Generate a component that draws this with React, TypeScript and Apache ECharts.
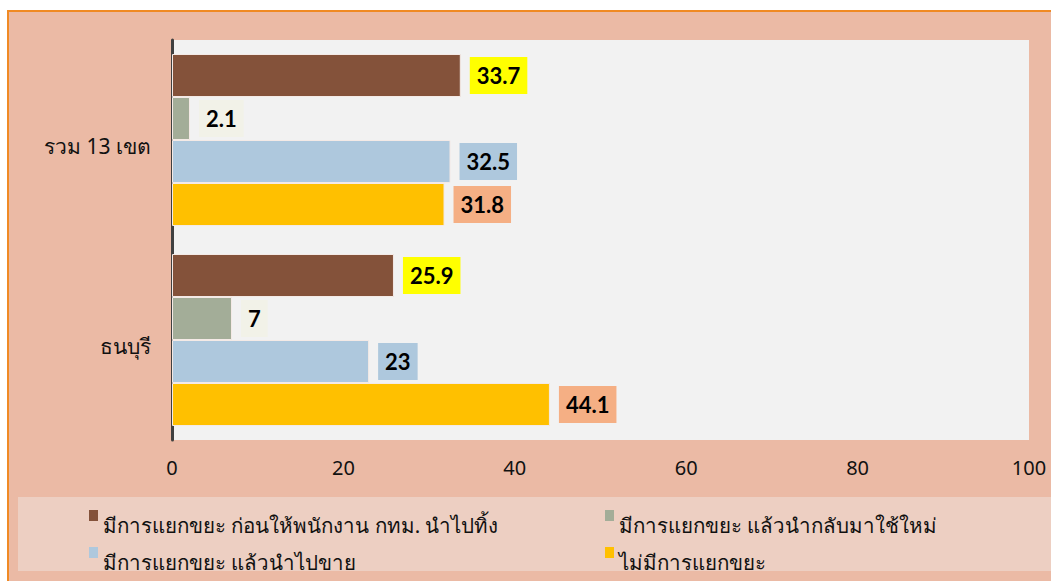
import React, { useEffect, useRef } from "react";
import * as echarts from "echarts";

const categories = ["รวม 13 เขต", "ธนบุรี"];
const seriesNames = [
  "มีการแยกขยะ ก่อนให้พนักงาน กทม. นำไปทิ้ง",
  "มีการแยกขยะ แล้วนำกลับมาใช้ใหม่",
  "มีการแยกขยะ แล้วนำไปขาย",
  "ไม่มีการแยกขยะ",
];
const sortBeforeCollection = [33.7, 25.9];
const sortReuse = [2.1, 7];
const sortSell = [32.5, 23];
const noSorting = [31.8, 44.1];
const xTicks = { min: 0, max: 100, interval: 20 };

const barColors = ["#84523A", "#A3AD98", "#AEC8DD", "#FFC000"];
const labelBgs = ["#FFFF00", "#F2F2E8", "#AEC8DD", "#F5AF84"];

export default function App() {
  const ref = useRef<HTMLDivElement>(null);
  useEffect(() => {
    if (!ref.current) return;
    const chart = echarts.init(ref.current, undefined, { renderer: "svg" });
    const values = [sortBeforeCollection, sortReuse, sortSell, noSorting];
    const legendPos = [
      { left: 80, top: 498 },
      { left: 596, top: 498 },
      { left: 80, top: 535 },
      { left: 596, top: 535 },
    ];
    chart.setOption({
      animation: false,
      backgroundColor: "#EBBAA5",
      textStyle: { fontFamily: "Noto Sans, sans-serif" },
      graphic: [
        {
          type: "rect",
          left: 9,
          top: 485,
          shape: { width: 1100, height: 74 },
          style: { fill: "#EDCFC2" },
          z: -1,
        },
      ],
      grid: {
        left: 163,
        top: 28,
        right: 22,
        bottom: 141,
        show: true,
        backgroundColor: "#F2F2F2",
        borderWidth: 0,
        containLabel: false,
        outerBoundsMode: "none",
      },
      xAxis: {
        type: "value",
        min: xTicks.min,
        max: xTicks.max,
        interval: xTicks.interval,
        splitLine: { show: false },
        axisLine: { show: false },
        axisTick: { show: false },
        axisLabel: { fontSize: 20, color: "#111", margin: 17 },
      },
      yAxis: {
        type: "category",
        data: categories,
        inverse: true,
        axisLine: { show: true, lineStyle: { color: "#404040", width: 3 } },
        axisTick: { show: false },
        axisLabel: {
          color: "#111",
          margin: 21,
          formatter: (v: string) => "{c|" + v + "}",
          rich: { c: { fontSize: 21, color: "#111", padding: [12, 0, 0, 0] } },
        },
      },
      legend: seriesNames.map((n, i) => ({
        data: [n],
        left: legendPos[i].left,
        top: legendPos[i].top,
        padding: 0,
        itemWidth: 9,
        itemHeight: 30,
        itemGap: 4,
        icon: "path://M0,0h9v11h-9zM0,30h0.01v0.01h-0.01z",
        itemStyle: { borderWidth: 0 },
        textStyle: { fontSize: 20.5, color: "#111" },
      })),
      series: seriesNames.map((n, i) => ({
        name: n,
        type: "bar",
        data: values[i],
        barCategoryGap: "14%",
        barGap: "0%",
        itemStyle: { color: barColors[i], borderColor: "#F4EAE6", borderWidth: 1 },
        label: {
          show: true,
          position: "right",
          distance: 9,
          fontSize: 22,
          fontWeight: "bold",
          fontFamily: "Lato",
          color: "#000",
          backgroundColor: labelBgs[i],
          padding: [8, 7],
          lineHeight: 21,
        },
      })),
    });
    return () => chart.dispose();
  }, []);
  return (
    <div
      style={{
        position: "absolute",
        left: 7,
        top: 10,
        borderLeft: "2px solid #F08A24",
        borderTop: "2px solid #F08A24",
      }}
    >
      <div ref={ref} style={{ width: 1042, height: 569 }} />
    </div>
  );
}
